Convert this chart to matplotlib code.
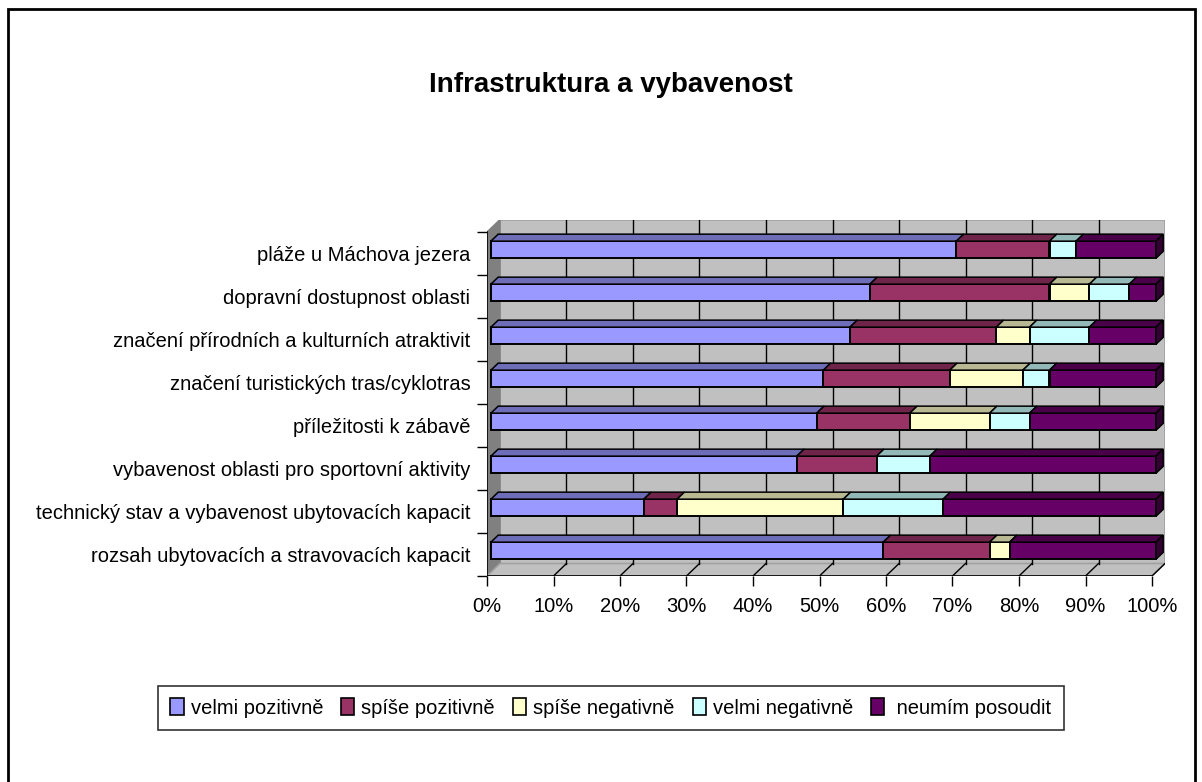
import numpy as np
import matplotlib
matplotlib.use('Agg')
import matplotlib.pyplot as plt
from matplotlib.patches import Polygon, Patch, Rectangle
from matplotlib.colors import to_rgb

plt.rcParams['font.family'] = ['Liberation Sans', 'DejaVu Sans']

# categories listed bottom -> top
categories = [
    'rozsah ubytovacích a stravovacích kapacit',
    'technický stav a vybavenost ubytovacích kapacit',
    'vybavenost oblasti pro sportovní aktivity',
    'příležitosti k zábavě',
    'značení turistických tras/cyklotras',
    'značení přírodních a kulturních atraktivit',
    'dopravní dostupnost oblasti',
    'pláže u Máchova jezera',
]
series_names = ['velmi pozitivně', 'spíše pozitivně', 'spíše negativně',
                'velmi negativně', ' neumím posoudit']
velmi_poz = [59, 23, 46, 49, 50, 54, 57, 70]
spise_poz = [16, 5, 12, 14, 19, 22, 27, 14]
spise_neg = [3, 25, 0, 12, 11, 5, 6, 0]
velmi_neg = [0, 15, 8, 6, 4, 9, 6, 4]
neumim = [22, 32, 34, 19, 16, 10, 4, 12]
xticks = list(range(0, 101, 10))

colors = ['#9999FF', '#993366', '#FFFFCC', '#CCFFFF', '#660066']
values = np.array([velmi_poz, spise_poz, spise_neg, velmi_neg, neumim], dtype=float)


def shade(c, f):
    return tuple(np.array(to_rgb(c)) * f)


W, H = 1202, 782
fig = plt.figure(figsize=(W / 100, H / 100), dpi=100)

# front plane: 0% at x=487, 100% at x=1152; bottom y=576, 43 px per category
px_per_unit = 6.65
DX = 13 / px_per_unit
DY = 12.5 / 43
n = len(categories)
ax_left, ax_right = 487, 1152 + 13
ax_bot, ax_top = H - 576, H - 576 + 43 * n + 12.5
ax = fig.add_axes([ax_left / W, ax_bot / H, (ax_right - ax_left) / W, (ax_top - ax_bot) / H])
ax.set_xlim(0, 100 + DX)
ax.set_ylim(0, n + DY)
for s in ax.spines.values():
    s.set_visible(False)
ax.patch.set_visible(False)

wall = '#C0C0C0'
# back wall, side wall, floor
ax.add_patch(Polygon([(DX, DY), (100 + DX, DY), (100 + DX, n + DY), (DX, n + DY)],
                     closed=True, facecolor=wall, edgecolor='#A0A0A0', lw=1.2, zorder=0))
ax.add_patch(Polygon([(0, 0), (DX, DY), (DX, n + DY), (0, n)],
                     closed=True, facecolor='#808080', edgecolor='#808080', lw=1, zorder=0.5))
ax.add_patch(Polygon([(0, 0), (100, 0), (100 + DX, DY), (DX, DY)],
                     closed=True, facecolor=wall, edgecolor='#A0A0A0', lw=1.2, zorder=0.5))
for t in xticks[1:-1]:
    ax.plot([t + DX, t + DX], [DY, n + DY], color='black', lw=1, zorder=1)
for t in xticks[1:]:
    ax.plot([t, t + DX], [0, DY], color='black', lw=1, zorder=1)
ax.plot([0, 100], [0, 0], color='black', lw=1.2, zorder=2)
ax.plot([0, 0], [0, n], color='black', lw=1.2, zorder=2)

# bars (front face via barh, top / side faces from the same numbers)
f0, f1 = 0.3, 0.86
bh = 0.4
lefts = np.zeros(n)
for k in range(len(series_names)):
    w = values[k]
    yc = np.arange(n) + 0.5 + f0 * DY
    mask = w > 0
    ax.barh(yc[mask], w[mask], left=lefts[mask] + f0 * DX, height=bh,
            color=colors[k], edgecolor='black', lw=1.4, zorder=3)
    for j in range(n):
        if w[j] <= 0:
            continue
        L, R = lefts[j], lefts[j] + w[j]
        yt = yc[j] + bh / 2
        ax.add_patch(Polygon([(L + f0 * DX, yt), (R + f0 * DX, yt),
                              (R + f1 * DX, yt + (f1 - f0) * DY), (L + f1 * DX, yt + (f1 - f0) * DY)],
                             closed=True, facecolor=shade(colors[k], 0.72),
                             edgecolor='black', lw=1.1, zorder=3))
    lefts += w

for j in range(n):
    R = lefts[j]
    yb = j + 0.5 + f0 * DY - bh / 2
    yt = yb + bh
    last = [k for k in range(len(series_names)) if values[k][j] > 0][-1]
    ax.add_patch(Polygon([(R + f0 * DX, yb), (R + f1 * DX, yb + (f1 - f0) * DY),
                          (R + f1 * DX, yt + (f1 - f0) * DY), (R + f0 * DX, yt)],
                         closed=True, facecolor=shade(colors[last], 0.5),
                         edgecolor='black', lw=1.1, zorder=3))

# axes ticks
ax.set_xticks(xticks)
ax.set_xticklabels([f'{t}%' for t in xticks])
ax.tick_params(axis='x', direction='out', length=7, width=1, pad=8, labelsize=14.5)
ax.set_yticks(np.arange(n + 1))
ax.set_yticklabels([])
ax.tick_params(axis='y', which='major', direction='out', length=7, width=1)
ax.set_yticks(np.arange(n) + 0.5, minor=True)
ax.set_yticklabels(categories, minor=True)
ax.tick_params(axis='y', which='minor', length=0, pad=12, labelsize=14.5)

fig.text(611 / W, 1 - 85 / H, 'Infrastruktura a vybavenost', ha='center', va='center',
         fontsize=20, fontweight='bold')

handles = [Patch(facecolor=c, edgecolor='black', lw=1.2) for c in colors]
leg = fig.legend(handles, series_names, loc='center', bbox_to_anchor=(611 / W, 1 - 708 / H),
                 ncol=5, fontsize=14.5, frameon=True, fancybox=False, shadow=False,
                 handlelength=0.65, handleheight=0.85, handletextpad=0.35, columnspacing=0.9,
                 borderpad=0.6)
leg.get_frame().set_edgecolor('black')
leg.get_frame().set_linewidth(1.2)

# outer chart border
fig.add_artist(Rectangle((8 / W, -0.05), (1195 - 8) / W, 1.05 - 9 / H, transform=fig.transFigure,
                         fill=False, edgecolor='black', lw=2))

fig.savefig('out.png', dpi=100)
